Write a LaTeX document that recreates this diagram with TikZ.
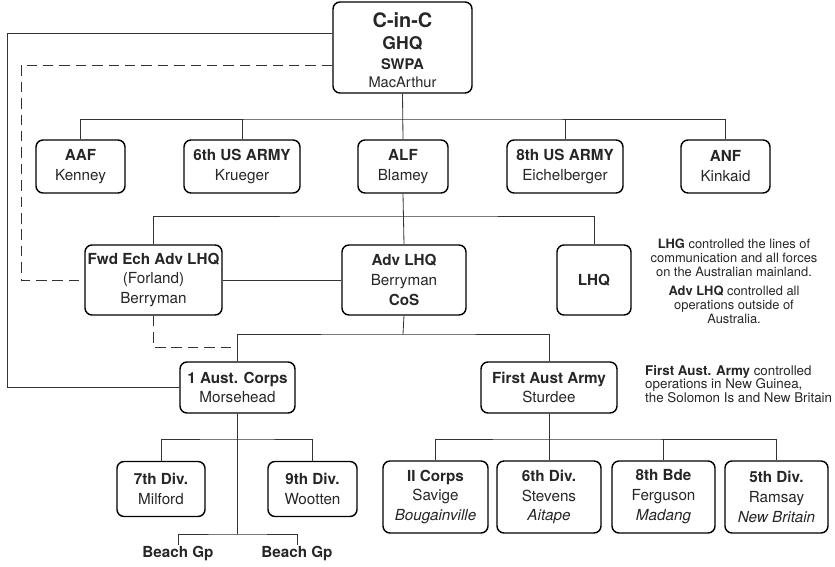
\documentclass[tikz,border=0pt]{standalone}
\usepackage{fontspec}
\setmainfont{TeX Gyre Heros}

\begin{document}
\begin{tikzpicture}[x=0.03cm, y=-0.03cm,
	every node/.style={font=\fontsize{13}{17}\selectfont, text=black!85},
	unit/.style={draw, line width=1.2pt, rounded corners=6pt, align=center, inner sep=0pt},
	box/.style 2 args={unit, minimum width=#1*0.03cm, minimum height=#2*0.03cm},
	link/.style={line width=0.7pt, draw=black!80},
	dashlink/.style={link, dash pattern=on 9pt off 5pt},
	note/.style={font=\fontsize{11}{12}\selectfont, align=center}]
			\useasboundingbox (0,0) rectangle (835,567);

			% Command
			\node[box={139}{91}, font=\fontsize{12.5}{15.3}\selectfont] (ghq) at (402.5,47.5)
				{\rule{0pt}{17pt}{\fontsize{17}{20}\selectfont\bfseries C-in-C}\\[3.4pt]{\fontsize{15}{18}\selectfont\bfseries GHQ}\\[1.7pt]\textbf{SWPA}\\MacArthur};

			% Forces under GHQ
			\node[box={89}{53}] (aaf) at (80.5,166.5) {\textbf{AAF}\\Kenney};
			\node[box={116}{53}] (sixth) at (242,166.5) {\textbf{6th US ARMY}\\Krueger};
			\node[box={90}{53}] (alf) at (403,166.5) {\textbf{ALF}\\Blamey};
			\node[box={116}{53}] (eighth) at (565,166.5) {\textbf{8th US ARMY}\\Eichelberger};
			\node[box={89}{53}] (anf) at (725.5,166.5) {\textbf{ANF}\\Kinkaid};

			% Headquarters under ALF
			\node[box={137}{70}] (fwdech) at (153.5,280) {\textbf{Fwd Ech Adv LHQ}\\(Forland)\\Berryman};
			\node[box={124}{70}] (advlhq) at (404,280) {\textbf{Adv LHQ}\\Berryman\\\textbf{CoS}};
			\node[box={74}{70}] (lhq) at (594,280) {\textbf{LHQ}};

			% Corps and army
			\node[box={115}{51}] (corps) at (237.5,387.5) {\textbf{1 Aust. Corps}\\Morsehead};
			\node[box={136}{51}] (firstarmy) at (549,387.5) {\textbf{First Aust Army}\\Sturdee};

			% Formations
			\node[box={88}{55}] (div7) at (161,489) {\textbf{7th Div.}\\Milford};
			\node[box={89}{55}] (div9) at (312.5,489) {\textbf{9th Div.}\\Wootten};
			\node[box={105}{72}] (iicorps) at (435.5,497) {\textbf{II Corps}\\Savige\\\textit{Bougainville}};
			\node[box={104}{72}] (div6) at (549,497) {\textbf{6th Div.}\\Stevens\\\textit{Aitape}};
			\node[box={103}{72}] (bde8) at (663.5,497) {\textbf{8th Bde}\\Ferguson\\\textit{Madang}};
			\node[box={103}{72}] (div5) at (776.5,497) {\textbf{5th Div.}\\Ramsay\\\textit{New Britain}};
			\node[anchor=north, inner sep=0.5pt, font=\fontsize{13}{17}\selectfont\bfseries] (beachA) at (178,545) {Beach Gp};
			\node[anchor=north, inner sep=0.5pt, font=\fontsize{13}{17}\selectfont\bfseries] (beachB) at (297,545) {Beach Gp};

			% Notes
			\node[note] (lhqnote) at (734,258) {\textbf{LHG} controlled the lines of\\communication and all forces\\on the Australian mainland.};
			\node[note] (advnote) at (734,305) {\textbf{Adv LHQ} controlled all\\operations outside of\\Australia.};
			\node[note, font=\fontsize{11.4}{11.6}\selectfont, align=left, anchor=west, inner sep=0pt] (armynote) at (645,384) {\textbf{First Aust. Army} controlled\\operations in New Guinea,\\the Solomon Is and New Britain};

			% Bus coordinates
			\coordinate (busA) at (403,119);
			\coordinate (busB) at (403,216);
			\coordinate (busC) at (403,334);
			\coordinate (busD) at (237.5,439);
			\coordinate (busE) at (549,439);
			\coordinate (busF) at (237.5,534);
			\coordinate (soltop) at (7,33);
			\coordinate (dashtop) at (21,65);
			\coordinate (dashlow) at (237.5,347);

			% Lines of command
			\draw[link] (ghq.south) -- (alf.north);
			\draw[link] (aaf.north) |- (busA) -| (anf.north);
			\draw[link] (sixth.north) -- (sixth.north |- busA);
			\draw[link] (eighth.north) -- (eighth.north |- busA);
			\draw[link] (alf.south) -- (advlhq.north);
			\draw[link] (fwdech.north) |- (busB) -| (lhq.north);
			\draw[link] (fwdech.east) -- (advlhq.west);
			\draw[link] (advlhq.south) -- (busC);
			\draw[link] (corps.north) |- (busC) -| (firstarmy.north);
			\draw[link] (corps.south) -- (busF);
			\draw[link] (div7.north) |- (busD) -| (div9.north);
			\draw[link] (beachA.north) |- (busF) -| (beachB.north);
			\draw[link] (firstarmy.south) -- (div6.north);
			\draw[link] (iicorps.north) |- (busE) -| (div5.north);
			\draw[link] (bde8.north) -- (bde8.north |- busE);
			\draw[link] (ghq.west |- soltop) -- (soltop) |- (corps.west);

			% Dashed links
			\draw[dashlink] (ghq.west |- dashtop) -- (dashtop) |- (fwdech.west);
			\draw[dashlink] (fwdech.south) |- (dashlow);
		\end{tikzpicture}
\end{document}
